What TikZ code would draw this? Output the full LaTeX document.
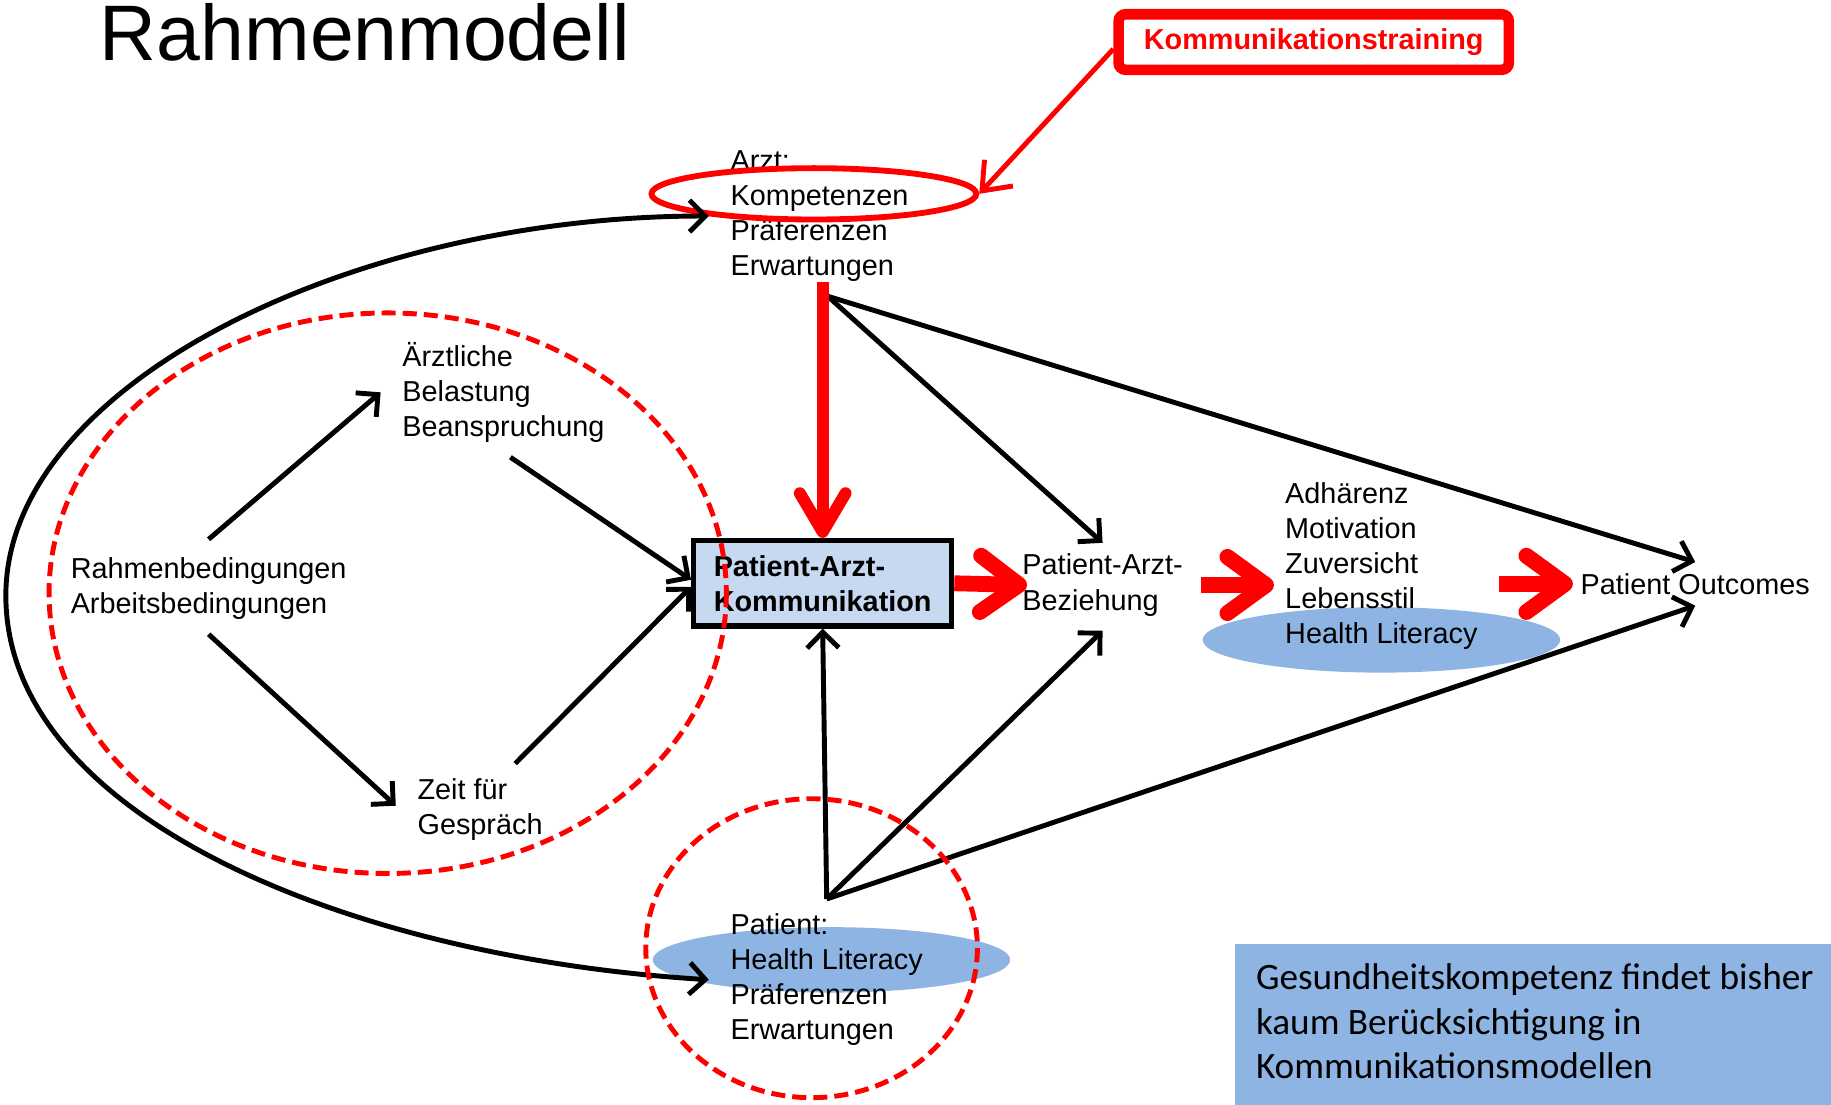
\documentclass[tikz,border=0pt]{standalone}
\usepackage{fontspec}
\setmainfont{Liberation Sans}
\newfontfamily\calibri{Carlito}
\usetikzlibrary{arrows.meta,shapes.geometric,calc}
\definecolor{hlblue}{HTML}{8EB4E3}
\definecolor{boxblue}{HTML}{C6D9F1}
\tikzset{
  txt/.style={align=left, inner sep=0pt, font=\fontsize{8.2}{9.97}\selectfont},
  blk/.style={draw=black, line width=1.4pt, -{Straight Barb[length=4.5pt,width=9pt]}},
  redfat/.style={draw=red, line width=4.5pt, -{Straight Barb[length=11pt,width=16pt,round]}},
  reddash/.style={draw=red, line width=1.4pt, dash pattern=on 4pt off 2pt},
  hloval/.style={ellipse, fill=hlblue, inner sep=0pt, minimum width=101.7pt, minimum height=18.6pt},
}
\begin{document}
\begin{tikzpicture}[x=0.011677cm, y=-0.011677cm]
\useasboundingbox (0,0) rectangle (1568,946);
\node[anchor=base west, inner sep=0pt, font=\fontsize{22.4}{26}\selectfont] (titel) at (85,52) {Rahmenmodell};
% blaue Hinterlegungen
\node[hloval] (hladh) at (1183,548) {};
\node[hloval] (hlpat) at (712,822) {};
\fill[hlblue] (1058,808) rectangle (1600,980);
\node[txt, anchor=north west, font=\calibri\fontsize{10.6}{12.6}\selectfont] (info) at (1075,825) {Gesundheitskompetenz findet bisher\\kaum Berücksichtigung in\\Kommunikationsmodellen};
% Knoten
\node[draw=black, line width=1.5pt, fill=boxblue, align=left, minimum width=73.4pt, minimum height=24.3pt, inner sep=0pt, font=\bfseries\fontsize{8.2}{9.97}\selectfont] (komm) at (704.5,499.5) {Patient-Arzt-\\Kommunikation};
\node[txt, anchor=west] (arzt) at (625,185) {Arzt:\\Kompetenzen\\Präferenzen\\Erwartungen};
\node[txt, anchor=west] (rahm) at (60,504) {Rahmenbedingungen\\Arbeitsbedingungen};
\node[txt, anchor=west] (aerzt) at (344,336) {Ärztliche\\Belastung\\Beanspruchung};
\node[txt, anchor=west] (zeit) at (357,693) {Zeit für\\Gespräch};
\node[txt, anchor=west] (bez) at (875,501) {Patient-Arzt-\\Beziehung};
\node[txt, anchor=west] (adh) at (1100,485) {Adhärenz\\Motivation\\Zuversicht\\Lebensstil\\Health Literacy};
\node[txt, anchor=west] (outc) at (1353,500) {Patient Outcomes};
\node[txt, anchor=west] (pat) at (625,839) {Patient:\\Health Literacy\\Präferenzen\\Erwartungen};
\node[ellipse, draw=red, line width=1.66pt, inner sep=0pt, minimum width=92.4pt, minimum height=14.6pt] (kompoval) at (697,166) {};
% Kommunikationstraining
\node[draw=red, line width=3pt, rounded corners=2pt, fill=white, minimum width=111pt, minimum height=15.8pt, inner sep=0pt, text=red, font=\bfseries\fontsize{8.2}{9.97}\selectfont] (train) at (1125,36) {Kommunikationstraining};
\draw[draw=red, line width=1.4pt, -{Straight Barb[length=7pt,width=11pt]}] ([yshift=-2pt]train.west) -- (kompoval.east);
% schwarze Pfeile
\coordinate (af) at ($(arzt.south)+(7,12)$);
\coordinate (pf) at ($(pat.north)+(0,-12)$);
\draw[blk] ([yshift=5pt]rahm.north) -- ([xshift=-6pt]aerzt.west);
\draw[blk] ([yshift=-4pt]rahm.south) -- ([xshift=-6pt,yshift=1pt]zeit.west);
\draw[blk] ([xshift=2pt,yshift=-4pt]aerzt.south) -- ([yshift=1pt]komm.west);
\draw[blk] ([xshift=10pt,yshift=4pt]zeit.north) -- ([yshift=-1pt]komm.west);
\draw[blk] (af) -- ([yshift=3pt]bez.north);
\draw[blk] (af) -- ([yshift=3pt]outc.north);
\draw[blk] (pf) -- (komm.south);
\draw[blk] (pf) -- ([yshift=-4pt]bez.south);
\draw[blk] (pf) -- ([yshift=-3pt]outc.south);
\draw[blk, {Straight Barb[length=4.5pt,width=9pt]}-{Straight Barb[length=4.5pt,width=9pt]}] ([xshift=-6pt]arzt.west) .. controls (300,185) and (5,330) .. (5,510) .. controls (5,700) and (300,820) .. ([xshift=-6pt]pat.west);
% rote Kreise
\draw[reddash] (332,508) ellipse [x radius=290, y radius=240];
\draw[reddash] (695,812) ellipse [x radius=142, y radius=128];
% rote Pfeile
\draw[draw=red, line width=3.4pt, -{Straight Barb[length=11pt,width=13pt,round]}] (komm.north |- arzt.south) -- (komm.north);
\draw[redfat] (komm.east) -- ([xshift=1.5pt]bez.west);
\draw[redfat] ([xshift=5pt]bez.east) -- ([xshift=-3pt]adh.west |- bez.east);
\draw[redfat] ([xshift=6pt]adh.east |- outc.west) -- ([xshift=-2pt]outc.west);
\end{tikzpicture}
\end{document}
